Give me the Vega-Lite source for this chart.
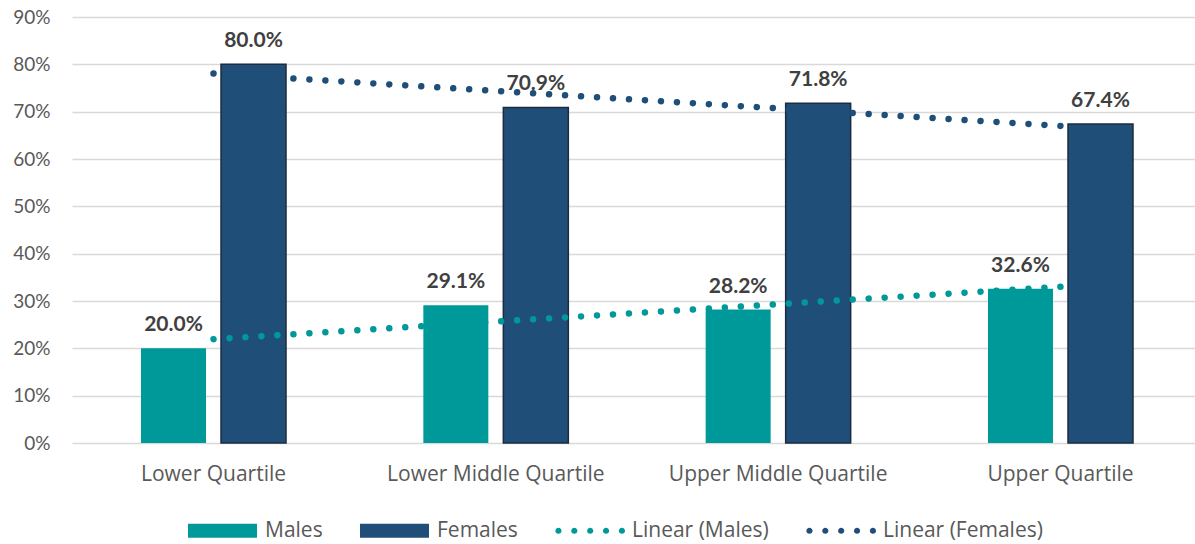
{
  "$schema": "https://vega.github.io/schema/vega-lite/v6.json",
  "width": 1123,
  "height": 426,
  "autosize": {"type": "none"},
  "padding": {"left": 72, "top": 17, "right": 0, "bottom": 101},
  "background": "white",
  "config": {"view": {"stroke": null}, "font": "Lato"},
  "data": {
    "values": [
      {"category": "Lower Quartile", "series": "Males", "value": 0.2},
      {"category": "Lower Quartile", "series": "Females", "value": 0.8},
      {"category": "Lower Middle Quartile", "series": "Males", "value": 0.291},
      {"category": "Lower Middle Quartile", "series": "Females", "value": 0.709},
      {"category": "Upper Middle Quartile", "series": "Males", "value": 0.282},
      {"category": "Upper Middle Quartile", "series": "Females", "value": 0.718},
      {"category": "Upper Quartile", "series": "Males", "value": 0.326},
      {"category": "Upper Quartile", "series": "Females", "value": 0.674},
      {"category": "Lower Quartile", "series": "Linear (Males)", "value": 0.2194},
      {"category": "Lower Middle Quartile", "series": "Linear (Males)", "value": 0.2563},
      {"category": "Upper Middle Quartile", "series": "Linear (Males)", "value": 0.2932},
      {"category": "Upper Quartile", "series": "Linear (Males)", "value": 0.3301},
      {"category": "Lower Quartile", "series": "Linear (Females)", "value": 0.7806},
      {"category": "Lower Middle Quartile", "series": "Linear (Females)", "value": 0.7437},
      {"category": "Upper Middle Quartile", "series": "Linear (Females)", "value": 0.7068},
      {"category": "Upper Quartile", "series": "Linear (Females)", "value": 0.6699}
    ]
  },
  "encoding": {
    "x": {
      "field": "category",
      "type": "nominal",
      "sort": ["Lower Quartile", "Lower Middle Quartile", "Upper Middle Quartile", "Upper Quartile"],
      "scale": {"range": [0, 1130], "paddingInner": 0.4864, "paddingOuter": 0.2444},
      "title": null,
      "axis": {
        "labelAngle": 0,
        "labelFont": "Open Sans",
        "labelFontSize": 21,
        "labelColor": "#595959",
        "labelPadding": 20,
        "labelLimit": 0,
        "ticks": false,
        "domain": false,
        "grid": false
      }
    },
    "y": {
      "field": "value",
      "type": "quantitative",
      "scale": {"domain": [0, 0.9], "nice": false},
      "title": null,
      "axis": {
        "format": ".0%",
        "values": [0, 0.1, 0.2, 0.3, 0.4, 0.5, 0.6, 0.7, 0.8, 0.9],
        "labelFontSize": 19,
        "labelColor": "#595959",
        "labelPadding": 22,
        "ticks": false,
        "domain": false,
        "grid": true,
        "gridColor": "#d9d9d9",
        "gridWidth": 1.5
      }
    }
  },
  "layer": [
    {
      "transform": [{"filter": {"field": "series", "oneOf": ["Males", "Females"]}}],
      "mark": {"type": "bar", "strokeWidth": 1.5},
      "encoding": {
        "xOffset": {
          "field": "series",
          "type": "nominal",
          "sort": ["Males", "Females"],
          "scale": {"paddingInner": 0.1875, "paddingOuter": 0}
        },
        "color": {
          "field": "series",
          "type": "nominal",
          "scale": {
            "domain": ["Males", "Females", "Linear (Males)", "Linear (Females)"],
            "range": ["#009999", "#1f4e79", "#009999", "#1f4e79"]
          }
        },
        "stroke": {
          "condition": {"test": "datum.series === 'Females'", "value": "#1c2c3e"},
          "value": null
        }
      }
    },
    {
      "transform": [{"filter": {"field": "series", "oneOf": ["Males", "Females"]}}],
      "mark": {
        "type": "text",
        "baseline": "alphabetic",
        "dy": -17,
        "fontSize": 21,
        "fontWeight": "bold",
        "color": "#404040"
      },
      "encoding": {
        "xOffset": {"field": "series", "type": "nominal", "sort": ["Males", "Females"]},
        "text": {"field": "value", "type": "quantitative", "format": ".1%"}
      }
    },
    {
      "transform": [{"filter": {"field": "series", "oneOf": ["Linear (Males)", "Linear (Females)"]}}],
      "mark": {
        "type": "line",
        "strokeWidth": 6.5,
        "strokeCap": "round",
        "strokeDash": [0.01, 16]
      },
      "encoding": {
        "detail": {"field": "series", "type": "nominal"},
        "stroke": {
          "field": "series",
          "type": "nominal",
          "scale": {"domain": ["Linear (Males)", "Linear (Females)"], "range": ["#009999", "#1f4e79"]},
          "legend": null
        }
      }
    },
    {
      "mark": {"type": "point", "filled": true, "opacity": 0},
      "encoding": {
        "color": {
          "field": "series",
          "type": "nominal",
          "scale": {
            "domain": ["Males", "Females", "Linear (Males)", "Linear (Females)"],
            "range": ["#009999", "#1f4e79", "#009999", "#1f4e79"]
          },
          "legend": {
            "title": null,
            "orient": "none",
            "direction": "horizontal",
            "columns": 4,
            "legendX": 115,
            "legendY": 478,
            "padding": 0,
            "symbolSize": 4761,
            "symbolOpacity": 1,
            "labelOffset": 7,
            "columnPadding": 34,
            "labelFont": "Open Sans",
            "labelFontSize": 21,
            "labelColor": "#595959",
            "encoding": {
              "symbols": {
                "update": {
                  "stroke": {"signal": "datum.value === 'Females' ? '#1c2c3e' : 'transparent'"},
                  "strokeWidth": {"value": 1.5}
                }
              }
            }
          }
        },
        "shape": {
          "field": "series",
          "type": "nominal",
          "scale": {
            "domain": ["Males", "Females", "Linear (Males)", "Linear (Females)"],
            "range": [
              "M-1,-0.2H1V0.2H-1Z",
              "M-1,-0.2H1V0.2H-1Z",
              "M-0.99,0a0.09,0.09 0 1,0 0.18,0a0.09,0.09 0 1,0 -0.18,0M-0.53,0a0.09,0.09 0 1,0 0.18,0a0.09,0.09 0 1,0 -0.18,0M-0.07,0a0.09,0.09 0 1,0 0.18,0a0.09,0.09 0 1,0 -0.18,0M0.39,0a0.09,0.09 0 1,0 0.18,0a0.09,0.09 0 1,0 -0.18,0M0.85,0a0.09,0.09 0 1,0 0.18,0a0.09,0.09 0 1,0 -0.18,0",
              "M-0.99,0a0.09,0.09 0 1,0 0.18,0a0.09,0.09 0 1,0 -0.18,0M-0.53,0a0.09,0.09 0 1,0 0.18,0a0.09,0.09 0 1,0 -0.18,0M-0.07,0a0.09,0.09 0 1,0 0.18,0a0.09,0.09 0 1,0 -0.18,0M0.39,0a0.09,0.09 0 1,0 0.18,0a0.09,0.09 0 1,0 -0.18,0M0.85,0a0.09,0.09 0 1,0 0.18,0a0.09,0.09 0 1,0 -0.18,0"
            ]
          },
          "legend": {
            "title": null,
            "orient": "none",
            "direction": "horizontal",
            "columns": 4,
            "legendX": 115,
            "legendY": 478,
            "padding": 0,
            "symbolSize": 4761,
            "symbolOpacity": 1,
            "labelOffset": 7,
            "columnPadding": 34,
            "labelFont": "Open Sans",
            "labelFontSize": 21,
            "labelColor": "#595959",
            "encoding": {
              "symbols": {
                "update": {
                  "stroke": {"signal": "datum.value === 'Females' ? '#1c2c3e' : 'transparent'"},
                  "strokeWidth": {"value": 1.5}
                }
              }
            }
          }
        }
      }
    }
  ]
}
